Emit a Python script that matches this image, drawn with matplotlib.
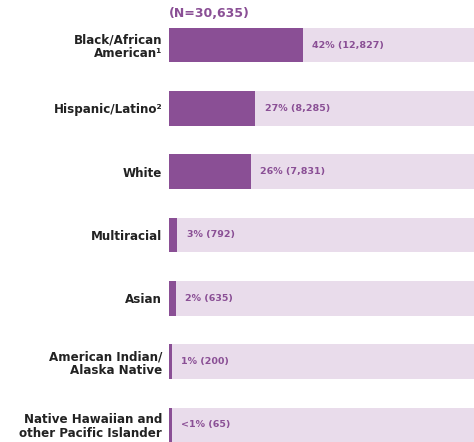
import matplotlib
matplotlib.use("Agg")
import matplotlib.pyplot as plt

categories = ["Black/African\nAmerican\u00b9", "Hispanic/Latino\u00b2", "White", "Multiracial",
              "Asian", "American Indian/\nAlaska Native", "Native Hawaiian and\nother Pacific Islander"]
counts = [12827, 8285, 7831, 792, 635, 200, 65]
labels = ["42% (12,827)", "27% (8,285)", "26% (7,831)", "3% (792)", "2% (635)", "1% (200)", "<1% (65)"]
total = 30635

dark = "#8A4F95"
light = "#E9DCEB"

fig = plt.figure(figsize=(4.74, 4.42), dpi=100)
ax = fig.add_axes([169/474, 0, 305/474, 1])
pct = [c / total * 100 for c in counts]
ys = list(range(len(categories)))
h = 0.55
ax.barh(ys, [100]*len(ys), height=h, color=light, left=0)
ax.barh(ys, [max(p, 0.9) for p in pct], height=h, color=dark)
for y, p, lab in zip(ys, pct, labels):
    ax.text(max(p, 0.9) + 3.0, y, lab, va="center", ha="left", fontsize=6.8, color=dark,
            fontweight="semibold", family="DejaVu Sans")
ax.set_xlim(0, 95.6)
ax.set_ylim(6.269, -0.711)
ax.set_yticks(ys)
ax.set_yticklabels(categories, fontsize=8.6, fontweight="bold", color="#222222",
                   linespacing=1.05)
ax.tick_params(axis="y", length=0, pad=5)
ax.set_xticks([])
for s in ax.spines.values():
    s.set_visible(False)
ax.text(0, -0.711 + 14/63.33, f"(N={total:,})", ha="left", va="center", fontsize=9,
        fontweight="bold", color=dark)
fig.savefig("out.png", dpi=100)
